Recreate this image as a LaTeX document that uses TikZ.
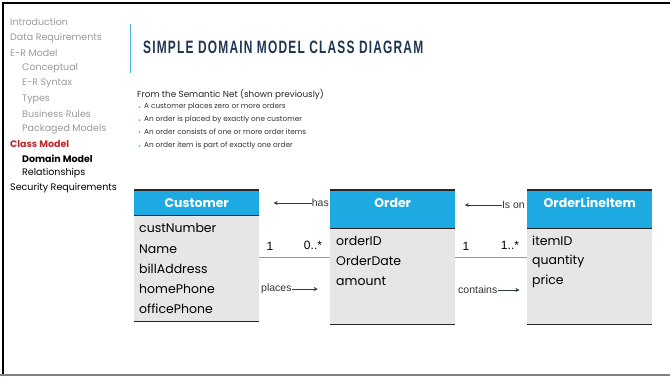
\documentclass[tikz,border=0pt]{standalone}
\usepackage{fontspec}
\setmainfont{Poppins}
\newfontfamily\arialf{Liberation Sans}
\newfontfamily\titlef[LetterSpace=10]{Liberation Sans}
\usetikzlibrary{arrows.meta}
\definecolor{navgray}{HTML}{999999}
\definecolor{navred}{HTML}{C0272D}
\definecolor{hdrblue}{HTML}{1DA9E1}
\definecolor{bodygray}{HTML}{E6E6E6}
\definecolor{titleblue}{HTML}{1F3552}
\definecolor{linkblue}{HTML}{4DB3E6}
\definecolor{arrowc}{HTML}{2E3B4A}
\definecolor{txtc}{HTML}{333333}
\tikzset{
  nav/.style={anchor=west, inner sep=0pt, font=\fontsize{9.5}{11}\selectfont, text=navgray},
  navcur/.style={nav, text=navred, font=\fontsize{9.5}{11}\selectfont\bfseries},
  navdark/.style={nav, text=black},
  hdr/.style={fill=hdrblue, draw=none, minimum width=125pt, inner sep=0pt, anchor=north west},
  hdrtext/.style={text=white, font=\fontsize{12.5}{14}\selectfont\bfseries, inner sep=0pt},
  body/.style={fill=bodygray, draw=none, minimum width=125pt, inner sep=0pt, anchor=north west},
  attr/.style={anchor=west, inner sep=0pt, font=\fontsize{12.5}{14}\selectfont, text=black},
  rule/.style={draw=black!85, line width=1.4pt},
  assoc/.style={draw=linkblue, line width=0.9pt},
  mult/.style={inner sep=0pt, font=\arialf\fontsize{12}{14}\selectfont, text=black},
  role/.style={inner sep=0pt, font=\arialf\fontsize{10.5}{12}\selectfont, text=txtc},
  dir/.style={draw=arrowc, line width=0.8pt, -{Stealth[length=4pt,width=4pt]}},
  bul/.style={anchor=west, inner sep=0pt, font=\fontsize{7.3}{9}\selectfont, text=black!80},
}
\begin{document}
\begin{tikzpicture}[x=1pt,y=-1pt]
\useasboundingbox (0,0) rectangle (670,376);
% frame
\draw[black, line width=2.2pt] (3,376) -- (3,3) -- (670,3);
\draw[gray, line width=1.4pt] (0,375) -- (670,375);
% navigation
\node[nav] (n1) at (10,22) {Introduction};
\node[nav] (n2) at (10,38) {Data Requirements};
\node[nav] (n3) at (10,53) {E-R Model};
\node[nav] (n4) at (22,68) {Conceptual};
\node[nav] (n5) at (22,83) {E-R Syntax};
\node[nav] (n6) at (22,99) {Types};
\node[nav] (n7) at (22,114) {Business Rules};
\node[nav] (n8) at (22,129) {Packaged Models};
\node[navcur] (n9) at (10,144) {Class Model};
\node[navdark, font=\fontsize{9.5}{11}\selectfont\bfseries] (n10) at (22,159) {Domain Model};
\node[navdark] (n11) at (22,173) {Relationships};
\node[navdark] (n12) at (10,188) {Security Requirements};
% title
\draw[linkblue, line width=1pt] (130,24) -- (130,73);
\node[anchor=west, inner sep=0pt, text=titleblue] (title) at (143,47) {\resizebox{280pt}{12.5pt}{\titlef\bfseries SIMPLE DOMAIN MODEL CLASS DIAGRAM}};
% semantic net text
\node[anchor=west, inner sep=0pt, font=\fontsize{8.8}{10}\selectfont, text=black!85] (sn) at (137,95) {From the Semantic Net (shown previously)};
\foreach \yy/\tt [count=\i] in {107/A customer places zero or more orders,120/An order is placed by exactly one customer,132/An order consists of one or more order items,146/An order item is part of exactly one order}{
  \node[bul] (b\i) at (144,\yy) {\tt};
  \fill[linkblue] (139.5,\yy) circle (1pt);
}
% Customer box
\node[hdr, minimum height=25pt] (custh) at (134,190) {};
\node[hdrtext] (custt) at (custh.center) {Customer};
\node[body, minimum height=106pt] (custb) at (134,215) {};
\draw[rule] (custh.north west) -- (custh.north east);
\draw[rule] (custh.south west) -- (custh.south east);
\draw[rule] (custb.south west) -- (custb.south east);
\node[attr] (c1) at (139,228) {custNumber};
\node[attr] (c2) at (139,249) {Name};
\node[attr] (c3) at (139,269) {billAddress};
\node[attr] (c4) at (139,289) {homePhone};
\node[attr] (c5) at (139,309) {officePhone};
% Order box
\node[hdr, minimum height=38pt] (ordh) at (330,190) {};
\node[hdrtext] (ordt) at ([yshift=-13pt]ordh.north) {Order};
\node[body, minimum height=96pt] (ordb) at (330,228) {};
\draw[rule] (ordh.north west) -- (ordh.north east);
\draw[rule] (ordh.south west) -- (ordh.south east);
\draw[rule] (ordb.south west) -- (ordb.south east);
\node[attr] (o1) at (336,241) {orderID};
\node[attr] (o2) at (336,261) {OrderDate};
\node[attr] (o3) at (336,281) {amount};
% OrderLineItem box
\node[hdr, minimum height=38pt] (olih) at (527,190) {};
\node[hdrtext] (olit) at ([yshift=-13pt]olih.north) {OrderLineItem};
\node[body, minimum height=96pt] (olib) at (527,228) {};
\draw[rule] (olih.north west) -- (olih.north east);
\draw[rule] (olih.south west) -- (olih.south east);
\draw[rule] (olib.south west) -- (olib.south east);
\node[attr] (i1) at (532,241) {itemID};
\node[attr] (i2) at (532,261) {quantity};
\node[attr] (i3) at (532,281) {price};
% association Customer - Order
\draw[assoc] (custb.east |- 0,257) -- (ordb.west |- 0,257);
\node[mult] (m1) at (270,246) {1};
\node[mult] (m2) at (313,245) {0..*};
\node[role, anchor=east] (has) at (329,203) {has};
\draw[dir] (has.west) -- ++(-38,0);
\node[role, anchor=west] (places) at (261,289) {places};
\draw[dir] (places.east) -- ++(26,0);
% association Order - OrderLineItem
\draw[assoc] (ordb.east |- 0,257) -- (olib.west |- 0,257);
\node[mult] (m3) at (466,246) {1};
\node[mult] (m4) at (510,245) {1..*};
\node[role, anchor=east] (ison) at (525,205) {Is on};
\draw[dir] (ison.west) -- ++(-37,0);
\node[role, anchor=west] (contains) at (458,290) {contains};
\draw[dir] (contains.east) -- ++(22,0);
\end{tikzpicture}
\end{document}
